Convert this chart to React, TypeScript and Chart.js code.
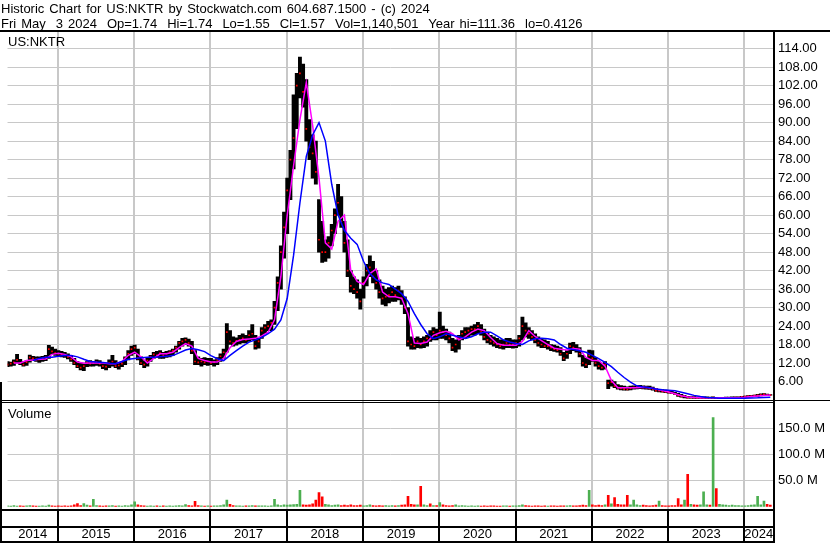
import React, { useEffect, useRef } from 'react';
import { Chart, registerables } from 'chart.js';

Chart.register(...registerables);

const FONT = '"Liberation Sans", Arial, sans-serif';

// time range (fractional years)
const START = 2014.34;
const END = 2024.375;
const BAR_STEP = 1 / 24; // half-month bars
const MA_STEP = 1 / 12; // monthly moving-average samples

const yearBoundaries = [2015, 2016, 2017, 2018, 2019, 2020, 2021, 2022, 2023, 2024];
const yearLabels = ['2014', '2015', '2016', '2017', '2018', '2019', '2020', '2021', '2022', '2023', '2024'];
const priceTicks = [6, 12, 18, 24, 30, 36, 42, 48, 54, 60, 66, 72, 78, 84, 90, 96, 102, 108, 114];
const volumeTicks = [50, 100, 150];

const hi = [
  12.5, 12.3, 13, 14.8, 13.2, 12.5, 12.8, 14.6, 14.2, 14,
  14, 14.2, 14.5, 17.7, 17.2, 16.5, 16, 15.8, 15.5, 15,
  14.5, 13.5, 12.5, 12, 12, 12.5, 12.8, 12.5, 13, 12.8,
  12.2, 12, 13, 14.5, 12.8, 12, 12.5, 14, 16, 17.5,
  17.8, 16.5, 14, 12.8, 13.5, 14.5, 15.5, 15.8, 16, 15.5,
  15.8, 16, 16.5, 17.5, 19, 20, 20.2, 19.8, 19, 16,
  14, 13.5, 13.8, 13.5, 13.5, 13, 13.8, 15, 16.5, 24.8,
  22.5, 20.5, 20.2, 21, 21.5, 21, 22.5, 24.5, 21, 20,
  23.5, 24.5, 25.5, 26, 32, 40, 50, 61, 72, 81,
  99, 106, 111.3, 109, 104, 91, 86, 84, 65, 58,
  52, 53, 57, 62, 70, 66, 58, 52, 42, 40,
  39, 36, 40, 44, 46.8, 45, 42, 39, 37, 36,
  36.5, 37, 36.5, 37, 35.5, 33.5, 30, 20.5, 20, 20.5,
  20, 20.5, 21, 22.5, 23.5, 23, 28.5, 24, 23, 22,
  20, 19.5, 21, 22.5, 23.5, 23.5, 24, 24.5, 25.2, 24.5,
  23, 22, 21, 20.5, 20, 19.5, 19.5, 20, 20, 19.5,
  19.5, 21, 26.9, 25, 23.5, 22.5, 21.5, 20.5, 20, 19.5,
  19, 18, 17.8, 17.5, 17, 15.5, 16, 18.5, 18.7, 18,
  17, 14.5, 13.5, 16.2, 16, 13.8, 12.5, 12, 12.5, 6.5,
  6.5, 6, 5, 4.7, 4.5, 4.3, 4.5, 4.6, 4.6, 4.8,
  4.6, 4.5, 4.5, 4.2, 3.8, 3.5, 3.4, 3.2, 3, 2.8,
  2.5, 2.2, 1.8, 1.5, 1.2, 1.1, 1.1, 1, 1, 1,
  1, 0.95, 1, 0.9, 0.85, 0.9, 0.95, 0.95, 1, 1,
  1, 1.2, 1.3, 1.4, 1.5, 1.6, 1.8, 2, 2.1, 1.9, 1.74,
];

const lo = [
  10.8, 11, 11.2, 12, 11.5, 11, 11.2, 12.3, 12.8, 12.5,
  12.2, 12.5, 12.8, 13.5, 15, 14.5, 14.3, 14, 13.8, 13.3,
  12.5, 11.5, 10.5, 9.8, 9.5, 10.8, 11, 11, 11.2, 11,
  10.2, 9.8, 10.5, 11, 10.5, 10, 10.8, 11.5, 13, 14.5,
  15, 13, 11.5, 10.5, 11, 12.5, 13.5, 13.8, 13.5, 13.5,
  13.8, 14, 14.5, 15.5, 16.5, 17.5, 18, 17.5, 15, 11.5,
  11.5, 11, 11.5, 11.2, 11.5, 11, 11.5, 12.5, 13.5, 15.5,
  18, 17.5, 17.8, 18.2, 18.5, 18.5, 19, 19.5, 16.5, 16.8,
  20, 21.5, 22.5, 22.5, 24.5, 29, 36, 46, 54, 65,
  75, 88, 98, 95, 84, 78, 72, 70, 48, 44.6,
  45, 46, 50, 54, 60, 56, 48, 40, 35, 34.5,
  33, 29.5, 33, 37, 40, 38, 36, 33, 31, 30.5,
  31.5, 32, 32, 32.5, 31, 28, 17.5, 16.5, 16.5, 17,
  16.8, 17, 17.5, 19, 19.5, 19.5, 20, 20, 19.5, 18.5,
  16, 15.5, 16.5, 19.5, 20, 20.5, 21, 21, 21.5, 21,
  19.5, 18.5, 18, 17.5, 17, 16.7, 16.5, 17, 17, 16.8,
  17, 17.5, 19.5, 20.5, 20, 19.5, 18.5, 17.5, 17, 17,
  16.5, 16, 15.8, 15.5, 14.5, 12.8, 13.5, 15, 16, 15.5,
  14, 11, 10.5, 11.5, 12.5, 11, 10, 9.8, 10, 3.7,
  4.5, 4, 3.5, 3.3, 3.2, 3.2, 3.3, 3.5, 3.6, 3.7,
  3.6, 3.5, 3.4, 3.2, 2.8, 2.6, 2.5, 2.4, 2.2, 2.1,
  1.8, 1.2, 0.9, 0.7, 0.6, 0.6, 0.55, 0.55, 0.5, 0.5,
  0.5, 0.5, 0.5, 0.45, 0.41, 0.45, 0.5, 0.5, 0.55, 0.55,
  0.6, 0.7, 0.8, 0.9, 1, 1.1, 1.2, 1.3, 1.4, 1.4, 1.55,
];

const cl = [
  11.5, 11.8, 12.2, 13, 12, 11.5, 12.3, 13.8, 13.5, 13.2,
  13.2, 13.5, 13.8, 16.5, 15.8, 15.2, 15, 14.8, 14.5, 14,
  13.2, 12, 11, 10.5, 11, 12, 11.8, 12, 12.3, 11.8,
  11, 10.8, 12, 12.5, 11, 11.2, 11.8, 13.5, 15, 16.5,
  17, 13.5, 12, 11.5, 12.8, 14, 14.8, 14.5, 15.2, 14.5,
  15, 15.5, 16, 17, 18.5, 19, 19.5, 18.5, 16, 12.5,
  12.2, 12.5, 12.2, 12.5, 12, 12.3, 13, 14.2, 15.5, 22,
  19, 18.5, 19.2, 19.5, 20, 19.5, 21, 21.5, 17.5, 19,
  22.5, 23.5, 24, 25, 30, 38, 48, 56, 68, 78,
  85, 102, 106, 100, 88, 82, 80, 74, 52, 48,
  48, 51, 55, 60, 64, 58, 51, 42, 37, 36,
  35, 32, 38, 42, 43, 40, 38, 35, 33, 33.5,
  34, 35, 34, 35.5, 33, 30, 19, 18, 17.5, 19,
  18, 19, 20, 19.8, 22, 21, 22.5, 22, 21, 20,
  17, 18, 20, 21.5, 22, 22.5, 23, 23, 24, 22,
  20.5, 19.5, 19, 18.5, 18, 17.5, 18, 18.5, 18, 18,
  18.5, 20, 24, 22.5, 21.5, 20.5, 19.5, 18.5, 18, 17.5,
  17.5, 17, 16.5, 16.2, 15, 13.5, 15, 17.5, 17, 16.5,
  15, 12, 11.5, 14.5, 13.5, 12, 11, 10.5, 11.5, 5.5,
  5.8, 4.5, 4, 3.8, 3.5, 3.4, 3.8, 4, 4.2, 4.3,
  4.1, 4, 3.8, 3.5, 3, 3, 2.8, 2.6, 2.5, 2.3,
  2, 1.5, 1.2, 1.25, 0.8, 0.8, 0.75, 0.7, 0.7, 0.7,
  0.7, 0.65, 0.75, 0.6, 0.6, 0.62, 0.65, 0.7, 0.72, 0.75,
  0.8, 1, 1.1, 1.2, 1.3, 1.4, 1.5, 1.7, 1.8, 1.6, 1.57,
];

// volume in millions of shares
const vol = [
  1.5, 1, 2, 1, 1.5, 1, 1.2, 2, 1.5, 1,
  1, 1.5, 1, 2.5, 1.5, 1, 1.2, 1, 1.5, 1,
  1.2, 3, 5.5, 2, 5.5, 2.5, 1.5, 14, 2, 1.5,
  1, 1.2, 1.5, 2, 1, 1.5, 1, 2, 1.5, 3,
  8.8, 3, 2, 1.5, 1, 1.2, 1, 1.5, 1, 1.2,
  1, 1.5, 1, 1.2, 2, 1.5, 3.5, 2, 1.5, 10,
  2, 1.5, 1, 1.2, 1, 1.5, 1.2, 2, 3, 12.5,
  4, 2, 1.5, 1.5, 1, 1.2, 1.5, 2, 1.5, 1.2,
  1.5, 1.2, 1, 1.5, 14, 3, 2, 3, 2.5, 3,
  3.5, 4, 31.3, 3, 2.5, 3, 5, 12.5, 27, 18.6,
  4, 3, 2, 2.5, 3, 2, 2.5, 2, 3, 2,
  2, 2.5, 1.5, 2, 3, 2, 1.5, 2, 1.5, 2,
  1.5, 2, 1.5, 2, 2.5, 3, 19.8, 4, 3, 3,
  39, 3, 2, 5, 2, 2, 7.6, 3, 2, 1.5,
  2, 3, 1.5, 2, 1.5, 1, 1.2, 1, 1.5, 1,
  1.5, 1, 1.2, 1.5, 1, 1, 1.2, 1.5, 1, 1.2,
  1.5, 2, 3, 2, 1.5, 1, 1.5, 1.2, 1, 1.5,
  1, 1.5, 1.2, 1, 1.5, 1.5, 1.2, 2, 1.5, 1.5,
  2, 2.5, 2, 31.3, 3, 2, 2.5, 2, 3, 21.7,
  5, 17.3, 4, 3, 3, 21.7, 3, 12.5, 3, 2,
  2.5, 2, 1.5, 2, 2.5, 10.5, 2, 1.5, 1.5, 2,
  2, 15.3, 3, 12.5, 62, 4, 3, 2.5, 3, 28,
  3, 2.5, 171, 34.6, 4, 3, 2.5, 2, 2.5, 2,
  2, 1.5, 1.5, 2, 2.5, 3, 19.8, 3, 10.5, 4, 2.5,
];

// short moving average (magenta), monthly samples
const ma50 = [
  null, 12, 12, 12.8, 13, 13.2, 13.3, 14.8, 15.2, 14.8,
  14, 12.3, 11.9, 12, 12, 12, 11.8, 11.8, 12.5, 14.5,
  15.5, 14, 12, 13.5, 15, 15, 15.5, 17, 18.3, 17.5,
  13.5, 12.8, 12.3, 12.3, 13.5, 17, 19, 19.6, 19.8, 20,
  20.8, 22, 26, 40, 60, 76, 91, 103, 89, 72,
  51, 49, 58, 60, 42, 38.5, 37.5, 41, 42.5, 35,
  33.5, 33.5, 33, 28, 18.5, 18.3, 18.8, 21, 21.8, 22.3,
  21.5, 19.5, 20.5, 22, 23, 22.5, 20.3, 18.3, 17.8, 17.8,
  17.8, 19, 22.5, 20.6, 19.3, 18, 16.8, 16.5, 16.2, 16.7,
  16.5, 13.8, 12.8, 12.8, 11, 6.3, 4, 4, 4, 4,
  4.1, 4, 3.6, 3.1, 2.6, 2, 1.4, 1, 0.8, 0.7,
  0.7, 0.7, 0.7, 0.7, 0.7, 0.75, 0.9, 1.1, 1.3, 1.5, 1.6,
];

// long moving average (blue), monthly samples
const ma200 = [
  null, null, null, null, 12.8, 13.5, 13.9, 13.9, 14.2, 14.4,
  14.4, 14, 13.2, 12.5, 12.3, 12.2, 11.9, 11.8, 12.5, 13.2,
  13.5, 13.7, 13.9, 13.9, 14, 14.2, 14.4, 15.3, 16.2, 16.7,
  16.3, 15.7, 14.4, 13.4, 12.8, 14.5, 16, 17.5, 18.8, 19.5,
  20.3, 21.5, 23, 26, 33, 47, 64, 79, 86, 90,
  84, 70, 60, 55, 52.5, 50.5, 45, 41, 39, 38,
  37.5, 36, 34.5, 32, 28, 24.5, 21.5, 19.9, 20.5, 21.5,
  21, 20.5, 20, 20.5, 21.5, 22, 22, 20.8, 19.5, 18.8,
  18.3, 18, 19.2, 19.9, 20, 19.9, 19.5, 18, 16.8, 16.4,
  16, 15.5, 14.5, 13.4, 12.2, 10.8, 9, 7.3, 5.8, 4.6,
  4.2, 4, 3.6, 3.3, 3.2, 3, 2.5, 2, 1.5, 1.1,
  0.8, 0.7, 0.6, 0.6, 0.6, 0.6, 0.6, 0.65, 0.7, 0.8, 0.9,
];

const headerLine1 = 'Historic Chart for US:NKTR by Stockwatch.com 604.687.1500 - (c) 2024';
const headerLine2 = 'Fri May  3 2024  Op=1.74  Hi=1.74  Lo=1.55  Cl=1.57  Vol=1,140,501  Year hi=111.36  lo=0.4126';
const symbolLabel = 'US:NKTR';
const volumeLabel = 'Volume';

const W = 830;
const H = 543;

const framePlugin = {
  id: 'frame',
  afterDraw(chart: any) {
    const { ctx, chartArea: a, scales } = chart;
    const pBottom = Math.round(scales.yP.bottom);
    ctx.save();
    ctx.fillStyle = '#000';
    ctx.fillRect(0, a.top - 2, W, 2);
    ctx.fillRect(0, pBottom, W, 1);
    ctx.fillRect(0, pBottom + 2, a.right, 1);
    ctx.fillRect(a.right, a.top - 1, 2, H - a.top + 1);
    ctx.fillRect(0, a.bottom, a.right, 2);
    ctx.fillRect(0, a.bottom + 17, a.right, 2);
    ctx.fillRect(0, H - 2, a.right, 2);
    ctx.fillRect(0, pBottom - 18, 2, H - pBottom + 18);
    yearBoundaries.forEach((y) => {
      const px = Math.round(scales.x.getPixelForValue(y));
      ctx.fillRect(px - 1, a.bottom, 2, H - a.bottom);
    });
    ctx.restore();
  },
};

export default function App() {
  const ref = useRef<HTMLCanvasElement | null>(null);

  useEffect(() => {
    const canvas = ref.current;
    if (!canvas) return;

    const barPts = hi.map((h, i) => ({ x: START + i * BAR_STEP, y: [lo[i], h] }));
    const closePts = cl.map((c, i) => ({ x: START + i * BAR_STEP, y: c }));
    const volPts = vol.map((v, i) => ({ x: START + i * BAR_STEP, y: v }));
    const volColors = cl.map((c, i) => (i === 0 || c >= cl[i - 1] ? '#4caf50' : '#ff0000'));
    const ma50Pts = ma50.map((v, j) => ({ x: START + j * MA_STEP, y: v }));
    const ma200Pts = ma200.map((v, j) => ({ x: START + j * MA_STEP, y: v }));

    const mids = yearLabels.map((lab) => {
      const y = Number(lab);
      const a = Math.max(START, y);
      const b = Math.min(END, y + 1);
      return (a + b) / 2;
    });

    const tickFont = { family: FONT, size: 13 };

    const chart = new Chart(canvas, {
      type: 'bar',
      data: {
        datasets: [
          {
            type: 'line',
            data: ma200Pts,
            borderColor: '#0000ff',
            borderWidth: 1.5,
            pointRadius: 0,
            tension: 0,
            spanGaps: true,
            xAxisID: 'x',
            yAxisID: 'yP',
            order: 1,
          },
          {
            type: 'line',
            data: ma50Pts,
            borderColor: '#ff00ff',
            borderWidth: 1.5,
            pointRadius: 0,
            tension: 0,
            spanGaps: true,
            xAxisID: 'x',
            yAxisID: 'yP',
            order: 2,
          },
          {
            type: 'line',
            data: closePts,
            showLine: false,
            pointStyle: 'rect',
            pointRadius: 1.2,
            pointBackgroundColor: '#ff0000',
            pointBorderWidth: 0,
            xAxisID: 'x',
            yAxisID: 'yP',
            order: 3,
          },
          {
            type: 'bar',
            data: barPts,
            backgroundColor: '#000000',
            barThickness: 3.2,
            grouped: false,
            xAxisID: 'x',
            yAxisID: 'yP',
            order: 4,
          },
          {
            type: 'bar',
            data: volPts,
            backgroundColor: volColors,
            barThickness: 2,
            grouped: false,
            xAxisID: 'x',
            yAxisID: 'yV',
            order: 5,
          },
        ],
      } as any,
      options: {
        animation: false,
        responsive: false,
        events: [],
        layout: { padding: { top: 32, left: 2, right: 0, bottom: 0 } },
        plugins: { legend: { display: false }, tooltip: { enabled: false } },
        scales: {
          x: {
            type: 'linear',
            position: 'bottom',
            min: START,
            max: END,
            offset: false,
            grid: { color: '#c8c8c8', lineWidth: 2, drawTicks: false, offset: false },
            border: { display: false },
            ticks: { display: false },
            afterBuildTicks: (s: any) => {
              s.ticks = yearBoundaries.map((v) => ({ value: v }));
            },
            afterFit: (s: any) => {
              s.height = 0;
            },
          },
          xYear: {
            type: 'linear',
            position: 'bottom',
            min: START,
            max: END,
            offset: false,
            grid: { display: false, drawTicks: false },
            border: { display: false },
            ticks: {
              autoSkip: false,
              maxRotation: 0,
              minRotation: 0,
              padding: 18,
              color: '#000',
              font: tickFont,
              callback: (_v: any, i: number) => yearLabels[i],
            },
            afterBuildTicks: (s: any) => {
              s.ticks = mids.map((v) => ({ value: v }));
            },
            afterFit: (s: any) => {
              s.height = 34;
            },
          },
          yP: {
            type: 'linear',
            position: 'right',
            stack: 'v',
            stackWeight: 368,
            min: 0,
            max: 119.4,
            offset: false,
            grid: { color: '#c8c8c8', lineWidth: 1, drawTicks: false },
            border: { display: false },
            ticks: {
              autoSkip: false,
              padding: 5,
              color: '#000',
              font: tickFont,
              callback: (v: any) => Number(v).toFixed(2),
            },
            afterBuildTicks: (s: any) => {
              s.ticks = priceTicks.map((v) => ({ value: v }));
            },
            afterFit: (s: any) => {
              s.width = 57;
            },
          },
          yV: {
            type: 'linear',
            position: 'right',
            stack: 'v',
            stackWeight: 109,
            min: -4.8,
            max: 204.8,
            offset: false,
            grid: { color: '#c8c8c8', lineWidth: 1, drawTicks: false },
            border: { display: false },
            ticks: {
              autoSkip: false,
              padding: 5,
              color: '#000',
              font: tickFont,
              callback: (v: any) => Number(v).toFixed(1) + ' M',
            },
            afterBuildTicks: (s: any) => {
              s.ticks = volumeTicks.map((v) => ({ value: v }));
            },
            afterFit: (s: any) => {
              s.width = 57;
            },
          },
        },
      } as any,
      plugins: [framePlugin],
    });

    return () => chart.destroy();
  }, []);

  const textStyle: React.CSSProperties = {
    position: 'absolute',
    fontFamily: FONT,
    fontSize: 13,
    lineHeight: '15px',
    color: '#000',
    whiteSpace: 'pre',
    wordSpacing: '1.4px',
  };

  return (
    <div style={{ position: 'absolute', left: 0, top: 0, width: W, height: H, background: '#fff', overflow: 'hidden' }}>
      <canvas ref={ref} width={W} height={H} style={{ display: 'block', width: W, height: H }} />
      <div style={{ ...textStyle, left: 1, top: 1 }}>{headerLine1}</div>
      <div style={{ ...textStyle, left: 1, top: 16 }}>{headerLine2}</div>
      <div style={{ ...textStyle, left: 8, top: 34 }}>{symbolLabel}</div>
      <div style={{ ...textStyle, left: 8, top: 406 }}>{volumeLabel}</div>
    </div>
  );
}
